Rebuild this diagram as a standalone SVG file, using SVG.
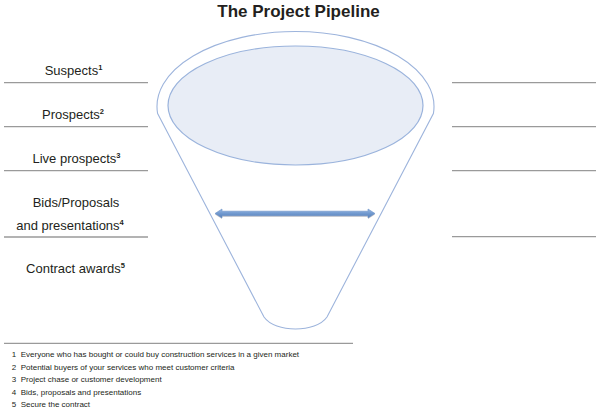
<svg xmlns="http://www.w3.org/2000/svg" width="600" height="414" viewBox="0 0 600 414">
<style>
.lbl{font-family:"Liberation Sans",Arial,sans-serif;font-size:13px;fill:#231f20;text-anchor:middle}
.sup{font-size:7.5px;font-weight:bold}
.rule{stroke:#9a9a9a;stroke-width:1.3;fill:none}
.fn{font-family:"Liberation Sans",Arial,sans-serif;font-size:8px;fill:#231f20}
.funnel{fill:none;stroke:#9db4dc;stroke-width:1.1}
</style>
<defs>
<linearGradient id="ag" x1="0" y1="0" x2="0" y2="1">
<stop offset="0" stop-color="#98b8e3"/>
<stop offset="0.5" stop-color="#7199cf"/>
<stop offset="1" stop-color="#557fb9"/>
</linearGradient>
</defs>
<rect width="600" height="414" fill="#ffffff"/>
<text x="298.5" y="17" font-family="Liberation Sans,Arial,sans-serif" font-size="17" font-weight="bold" fill="#231f20" text-anchor="middle">The Project Pipeline</text>

<g id="funnel">
<path class="funnel" d="M157.6,113.5 L264,317 C275,333 316,333 327,317 L433.4,113.5 A138.5 75 0 1 0 157.6 113.5 Z"/>
<ellipse cx="295.5" cy="105.5" rx="127.5" ry="59.5" fill="#e8edf6" stroke="#9ab3dc" stroke-width="1.2"/>
</g>

<g id="connectors">
<polygon points="215,214.5 222,210 222,212.2 368,212.2 368,210 375,214.5 368,219 368,216.8 222,216.8 222,219" fill="#b9b3b0" opacity="0.7"/>
<polygon points="215,213.5 222,209 222,211.2 368,211.2 368,209 375,213.5 368,218 368,215.8 222,215.8 222,218" fill="url(#ag)" stroke="#6a91c8" stroke-width="0.6"/>
</g>

<g id="left-rules">
<line class="rule" x1="4" y1="82.7" x2="148" y2="82.7"/>
<line class="rule" x1="4" y1="126.7" x2="148" y2="126.7"/>
<line class="rule" x1="4" y1="170.7" x2="148" y2="170.7"/>
<line class="rule" x1="4" y1="237" x2="148" y2="237"/>
</g>
<g id="right-rules">
<line class="rule" x1="452" y1="82.7" x2="596" y2="82.7"/>
<line class="rule" x1="452" y1="126.7" x2="596" y2="126.7"/>
<line class="rule" x1="452" y1="170.7" x2="596" y2="170.7"/>
<line class="rule" x1="452" y1="236.7" x2="596" y2="236.7"/>
</g>

<g id="suspects"><text class="lbl" x="73.5" y="75">Suspects<tspan class="sup" dy="-5">1</tspan></text></g>
<g id="prospects"><text class="lbl" x="73" y="119">Prospects<tspan class="sup" dy="-5">2</tspan></text></g>
<g id="live-prospects"><text class="lbl" x="76.5" y="163">Live prospects<tspan class="sup" dy="-5">3</tspan></text></g>
<g id="bids"><text class="lbl" x="76" y="207">Bids/Proposals</text><text class="lbl" x="70" y="230">and presentations<tspan class="sup" dy="-5">4</tspan></text></g>
<g id="contract"><text class="lbl" x="75.5" y="273">Contract awards<tspan class="sup" dy="-5">5</tspan></text></g>

<line class="rule" x1="4" y1="343.3" x2="353" y2="343.3" stroke-width="1"/>
<g id="footnotes">
<text class="fn" x="11.7" y="357">1</text><text class="fn" x="20.7" y="357">Everyone who has bought or could buy construction services in a given market</text>
<text class="fn" x="11.7" y="369.5">2</text><text class="fn" x="20.7" y="369.5">Potential buyers of your services who meet customer criteria</text>
<text class="fn" x="11.7" y="382">3</text><text class="fn" x="20.7" y="382">Project chase or customer development</text>
<text class="fn" x="11.7" y="394.5">4</text><text class="fn" x="20.7" y="394.5">Bids, proposals and presentations</text>
<text class="fn" x="11.7" y="407">5</text><text class="fn" x="20.7" y="407">Secure the contract</text>
</g>
</svg>
